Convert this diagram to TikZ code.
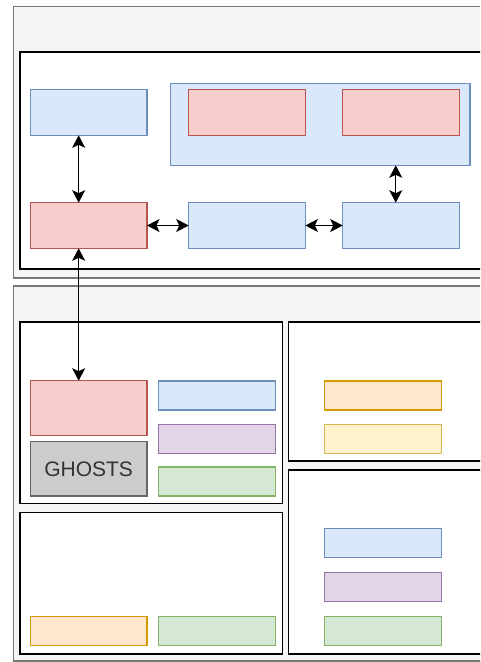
\documentclass[tikz,border=0pt]{standalone}
\usepackage{fontspec}
\setmainfont{Liberation Sans}
\usetikzlibrary{arrows.meta}
\definecolor{greyfill}{HTML}{F5F5F5}
\definecolor{greyline}{HTML}{777777}
\definecolor{bluefill}{HTML}{DAE8FC}
\definecolor{blueline}{HTML}{6C8EBF}
\definecolor{redfill}{HTML}{F8CECC}
\definecolor{redline}{HTML}{B85450}
\definecolor{purplefill}{HTML}{E1D5E7}
\definecolor{purpleline}{HTML}{9673A6}
\definecolor{greenfill}{HTML}{D5E8D4}
\definecolor{greenline}{HTML}{82B366}
\definecolor{orangefill}{HTML}{FFE6CC}
\definecolor{orangeline}{HTML}{D79B00}
\definecolor{yellowfill}{HTML}{FFF2CC}
\definecolor{yellowline}{HTML}{D6B656}
\definecolor{ghostfill}{HTML}{CCCCCC}
\definecolor{ghostline}{HTML}{666666}
\definecolor{ghosttext}{HTML}{333333}
\begin{document}
\begin{tikzpicture}[x=1pt,y=-1pt,
  box/.style={rectangle, inner sep=0pt, outer sep=0pt, anchor=north west, line width=1.3pt},
  wide/.style={box, minimum width=116.7pt, minimum height=45.6pt},
  slim/.style={box, minimum width=117pt, minimum height=29pt},
  container/.style={box, fill=greyfill, draw=greyline},
  panel/.style={box, fill=white, draw=black},
  bluebox/.style={fill=bluefill, draw=blueline},
  redbox/.style={fill=redfill, draw=redline},
  purplebox/.style={fill=purplefill, draw=purpleline},
  greenbox/.style={fill=greenfill, draw=greenline},
  orangebox/.style={fill=orangefill, draw=orangeline},
  yellowbox/.style={fill=yellowfill, draw=yellowline},
  tip/.tip={Stealth[length=12.5pt,width=13pt,inset=3pt]},
  link/.style={draw=black, line width=1.3pt, tip-tip}
]
\clip (0,0) rectangle (480,662);
\fill[white] (0,0) rectangle (480,662);

% upper layer
\node[container, minimum width=480pt, minimum height=271.3pt] (topc) at (13.7,6.7) {};
\node[panel, minimum width=480pt, minimum height=217pt] (toppanel) at (20,52) {};
\node[wide, bluebox] (b1) at (30.3,89.7) {};
\node[box, bluebox, minimum width=299.3pt, minimum height=81.6pt] (bigblue) at (170.7,83.7) {};
\node[wide, redbox] (r1) at (188.7,89.7) {};
\node[wide, redbox] (r2) at (342.7,89.7) {};
\node[wide, redbox] (rl) at (30.3,202.7) {};
\node[wide, bluebox] (bm) at (188.7,202.7) {};
\node[wide, bluebox] (br) at (342.7,202.7) {};

% lower layer
\node[container, minimum width=480pt, minimum height=375pt] (botc) at (13.7,286) {};
\node[panel, minimum width=262.7pt, minimum height=181.3pt] (pa) at (20,322) {};
\node[panel, minimum width=262.7pt, minimum height=141.7pt] (pb) at (20,512.3) {};
\node[panel, minimum width=200pt, minimum height=139pt] (pc) at (288.3,322) {};
\node[panel, minimum width=200pt, minimum height=184pt] (pd) at (288.3,470) {};

\node[box, redbox, minimum width=116.7pt, minimum height=55pt] (rb) at (30.3,380.7) {};
\node[box, fill=ghostfill, draw=ghostline, minimum width=116.7pt, minimum height=54.3pt,
      text=ghosttext, font=\fontsize{21}{25}\selectfont] (ghosts) at (30.3,441.7) {GHOSTS};
\node[slim, bluebox] (sa1) at (158.3,381) {};
\node[slim, purplebox] (sa2) at (158.3,424.7) {};
\node[slim, greenbox] (sa3) at (158.3,467) {};

\node[wide, orangebox, minimum height=29pt] (ob) at (30.3,616.3) {};
\node[slim, greenbox] (gb) at (158.3,616.3) {};

\node[slim, orangebox] (oc) at (324.3,381) {};
\node[slim, yellowbox] (yc) at (324.3,424.7) {};

\node[slim, bluebox] (d1) at (324.3,528.7) {};
\node[slim, purplebox] (d2) at (324.3,572.7) {};
\node[slim, greenbox] (d3) at (324.3,616.3) {};

% connectors
\draw[link] ([xshift=-10pt]b1.south) -- ([xshift=-10pt]rl.north);
\draw[link] (rl.east) -- (bm.west);
\draw[link] (bm.east) -- (br.west);
\draw[link] ([xshift=-5.3pt]br.north |- bigblue.south) -- ([xshift=-5.3pt]br.north);
\draw[link] ([xshift=-10pt]rl.south) -- ([xshift=-10pt]rb.north);
\end{tikzpicture}
\end{document}
